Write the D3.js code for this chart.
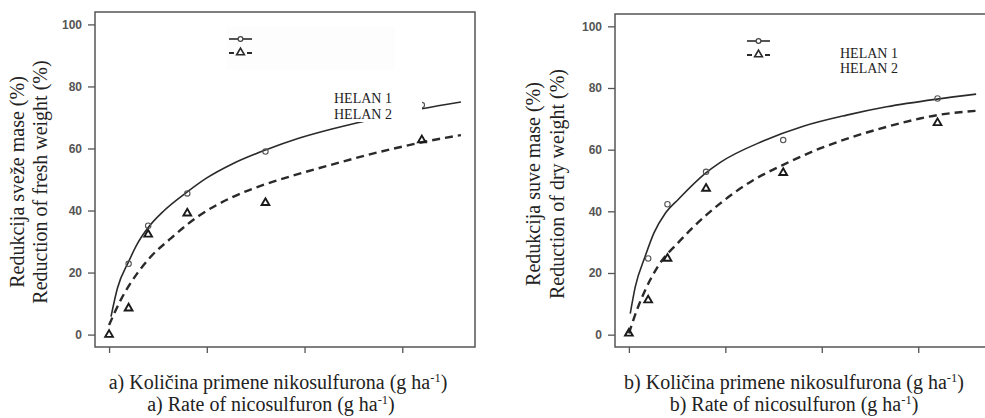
<!DOCTYPE html>
<html>
<head>
<meta charset="utf-8">
<title>Redukcija mase - nikosulfuron</title>
<script src="https://cdn.jsdelivr.net/npm/d3@7/dist/d3.min.js"></script>
<style>
  body { margin: 0; background: #fff; }
</style>
</head>
<body>
<div id="chart"></div>
<script>
// ticks
var doseTicks = [0, 50, 100, 150];
var pctTicks = [0, 20, 40, 60, 80, 100];

// a) fresh weight - observed points
var freshDoseH1 = [10, 20, 40, 80, 160];
var freshH1 = [22.8, 35.1, 45.5, 59.0, 74.0];
var freshDoseH2 = [0, 10, 20, 40, 80, 160];
var freshH2 = [0, 8.5, 32.3, 39.1, 42.5, 62.7];

// a) fitted curves (read off the picture)
var freshFitDoseH1 = [1, 4.3, 10, 14.5, 20, 28.2, 40, 50, 63, 80, 97, 114, 130, 160, 180];
var freshFitH1 = [5.8, 15, 23.5, 29.3, 34.5, 40, 46, 50.5, 55, 59.5, 63.3, 66.3, 68.7, 72.8, 75.0];
var freshFitDoseH2 = [0, 6, 14.5, 21.3, 31.6, 40, 46, 63, 80, 97, 114, 131.5, 148.6, 160, 180];
var freshFitH2 = [3.1, 11.2, 19.8, 25.1, 31, 35.5, 38.3, 44.3, 48.5, 51.8, 54.8, 57.8, 60.4, 62.0, 64.3];

// b) dry weight - observed points
var dryDoseH1 = [10, 20, 40, 80, 160];
var dryH1 = [24.7, 42.3, 52.8, 63.1, 76.6];
var dryDoseH2 = [0, 10, 20, 40, 80, 160];
var dryH2 = [0.4, 11.2, 24.7, 47.4, 52.5, 68.7];

// b) fitted curves
var dryFitDoseH1 = [0.7, 3.3, 8.5, 13, 18.8, 25.8, 39.6, 47.2, 69.6, 90.4, 112.9, 133.6, 159.8, 180];
var dryFitH1 = [6.8, 15.5, 25.5, 33, 39.3, 44, 52.3, 55.8, 62.8, 67.6, 71.2, 73.9, 76.4, 78.0];
var dryFitDoseH2 = [0, 4.1, 8.5, 15.4, 25.8, 39.6, 47.2, 64.4, 79.7, 99.1, 116.3, 133.6, 150.9, 159.8, 180];
var dryFitH2 = [0.4, 7.9, 14.5, 22.5, 30.0, 38.5, 42.5, 50.1, 55.0, 60.4, 64.2, 67.4, 70.1, 71.2, 72.6];

var seriesNames = ["HELAN 1", "HELAN 2"];

var w = 985, h = 418;
var serif = "'Liberation Serif', 'Times New Roman', serif";
var sans = "'Liberation Sans', Arial, sans-serif";

var svg = d3.select("#chart").append("svg")
    .attr("width", w)
    .attr("height", h);

function zip(xs, ys) { return xs.map(function(x, i) { return [x, ys[i]]; }); }

var panels = [
  { left: 95, top: 12, width: 380, height: 335,
    h1: zip(freshDoseH1, freshH1), h2: zip(freshDoseH2, freshH2),
    fit1: zip(freshFitDoseH1, freshFitH1), fit2: zip(freshFitDoseH2, freshFitH2),
    legend: [134, 27], labels: [239, 91], labelBg: [233, 74, 94, 36], legendBg: [132, 15, 168, 43],
    ytitle: ["Redukcija sveže mase (%)", "Reduction of fresh weight (%)"], ytx: [-71, -48], yty: 170,
    xtitle: ["a) Količina primene nikosulfurona (g ha", "a) Rate of nicosulfuron (g ha"], xtc: [183, 176] },
  { left: 615, top: 14, width: 375, height: 333,
    h1: zip(dryDoseH1, dryH1), h2: zip(dryDoseH2, dryH2),
    fit1: zip(dryFitDoseH1, dryFitH1), fit2: zip(dryFitDoseH2, dryFitH2),
    legend: [132, 27], labels: [225, 43.5], labelBg: null, legendBg: null,
    ytitle: ["Redukcija suve mase (%)", "Reduction of dry weight (%)"], ytx: [-75, -51], yty: 170,
    xtitle: ["b) Količina primene nikosulfurona (g ha", "b) Rate of nicosulfuron (g ha"], xtc: [179, 179] }
];

panels.forEach(function(p) {
  var g = svg.append("g").attr("transform", "translate(" + p.left + "," + p.top + ")");

  var x = d3.scaleLinear().domain([-7.2, 187.2]).range([0, p.width]);
  var y = d3.scaleLinear().domain([-4, 104]).range([p.height, 0]);

  if (p.legendBg) {
    g.append("rect").attr("x", p.legendBg[0]).attr("y", p.legendBg[1])
      .attr("width", p.legendBg[2]).attr("height", p.legendBg[3]).attr("fill", "#fdfdfd");
  }

  // axes (R style: ticks out, the box is the axis line)
  var yAxis = g.append("g")
    .call(d3.axisLeft(y).tickValues(pctTicks).tickSize(7).tickPadding(6));
  yAxis.select(".domain").remove();
  yAxis.selectAll(".tick line").attr("stroke", "#555").attr("stroke-width", 1.3);
  yAxis.selectAll(".tick text")
    .attr("font-family", sans).attr("font-size", 12).attr("font-weight", "bold").attr("fill", "#555");

  var xAxis = g.append("g")
    .attr("transform", "translate(0," + p.height + ")")
    .call(d3.axisBottom(x).tickValues(doseTicks).tickSize(6).tickFormat(""));
  xAxis.select(".domain").remove();
  xAxis.selectAll(".tick line").attr("stroke", "#555").attr("stroke-width", 1.3);

  // plot frame
  g.append("rect").attr("width", p.width).attr("height", p.height)
    .attr("fill", "none").attr("stroke", "#555").attr("stroke-width", 1.5);

  // fitted curves
  var line = d3.line()
    .x(function(d) { return x(d[0]); })
    .y(function(d) { return y(d[1]); })
    .curve(d3.curveMonotoneX);

  g.append("path").datum(p.fit1).attr("d", line)
    .attr("fill", "none").attr("stroke", "#2a2a2a").attr("stroke-width", 1.6);
  g.append("path").datum(p.fit2).attr("d", line)
    .attr("fill", "none").attr("stroke", "#2a2a2a").attr("stroke-width", 2.4)
    .attr("stroke-dasharray", "8,5");

  // observed points
  var tri = d3.symbol().type(d3.symbolTriangle).size(26);

  g.selectAll("circle.h1").data(p.h1).enter().append("circle")
    .attr("class", "h1")
    .attr("cx", function(d) { return x(d[0]); })
    .attr("cy", function(d) { return y(d[1]); })
    .attr("r", 2.7)
    .attr("fill", "none").attr("stroke", "#555").attr("stroke-width", 1.1);

  g.selectAll("path.h2").data(p.h2).enter().append("path")
    .attr("class", "h2")
    .attr("d", tri)
    .attr("transform", function(d) { return "translate(" + x(d[0]) + "," + y(d[1]) + ")"; })
    .attr("fill", "none").attr("stroke", "#1a1a1a").attr("stroke-width", 1.9);

  // white patch behind pasted labels
  if (p.labelBg) {
    g.append("rect").attr("x", p.labelBg[0]).attr("y", p.labelBg[1])
      .attr("width", p.labelBg[2]).attr("height", p.labelBg[3]).attr("fill", "#fff");
  }

  // legend keys
  var lg = g.append("g").attr("transform", "translate(" + p.legend[0] + "," + p.legend[1] + ")");
  lg.append("line").attr("x1", 0).attr("x2", 23).attr("y1", 0).attr("y2", 0)
    .attr("stroke", "#2a2a2a").attr("stroke-width", 1.6);
  lg.append("circle").attr("cx", 11.5).attr("cy", 0).attr("r", 2.4)
    .attr("fill", "#fff").attr("stroke", "#444").attr("stroke-width", 1.2);
  lg.append("line").attr("x1", 0).attr("x2", 23).attr("y1", 14).attr("y2", 14)
    .attr("stroke", "#2a2a2a").attr("stroke-width", 2)
    .attr("stroke-dasharray", "5,13,5");
  lg.append("path").attr("d", tri).attr("transform", "translate(11.5,13.5)")
    .attr("fill", "none").attr("stroke", "#2a2a2a").attr("stroke-width", 1.6);

  // series labels
  g.selectAll("text.helan").data(seriesNames).enter().append("text")
    .attr("class", "helan")
    .attr("font-family", serif).attr("font-size", 14).attr("fill", "#222")
    .attr("x", p.labels[0])
    .attr("y", function(d, i) { return p.labels[1] + i * 15.5; })
    .text(function(d) { return d; });

  // y title (two lines)
  p.ytitle.forEach(function(t, i) {
    g.append("text")
      .attr("font-family", serif).attr("font-size", 20).attr("fill", "#222")
      .attr("transform", "translate(" + p.ytx[i] + "," + p.yty + ") rotate(-90)")
      .attr("text-anchor", "middle")
      .text(t);
  });

  // x title (two lines)
  p.xtitle.forEach(function(t, i) {
    var tx = svg.append("text")
      .attr("font-family", serif).attr("font-size", 20).attr("fill", "#222")
      .attr("x", p.left + p.xtc[i])
      .attr("y", 389 + i * 21.5)
      .attr("text-anchor", "middle");
    tx.append("tspan").text(t);
    tx.append("tspan").attr("font-size", 12.5).attr("dy", -7).text("-1");
    tx.append("tspan").attr("dy", 7).text(")");
  });
});
</script>
</body>
</html>
